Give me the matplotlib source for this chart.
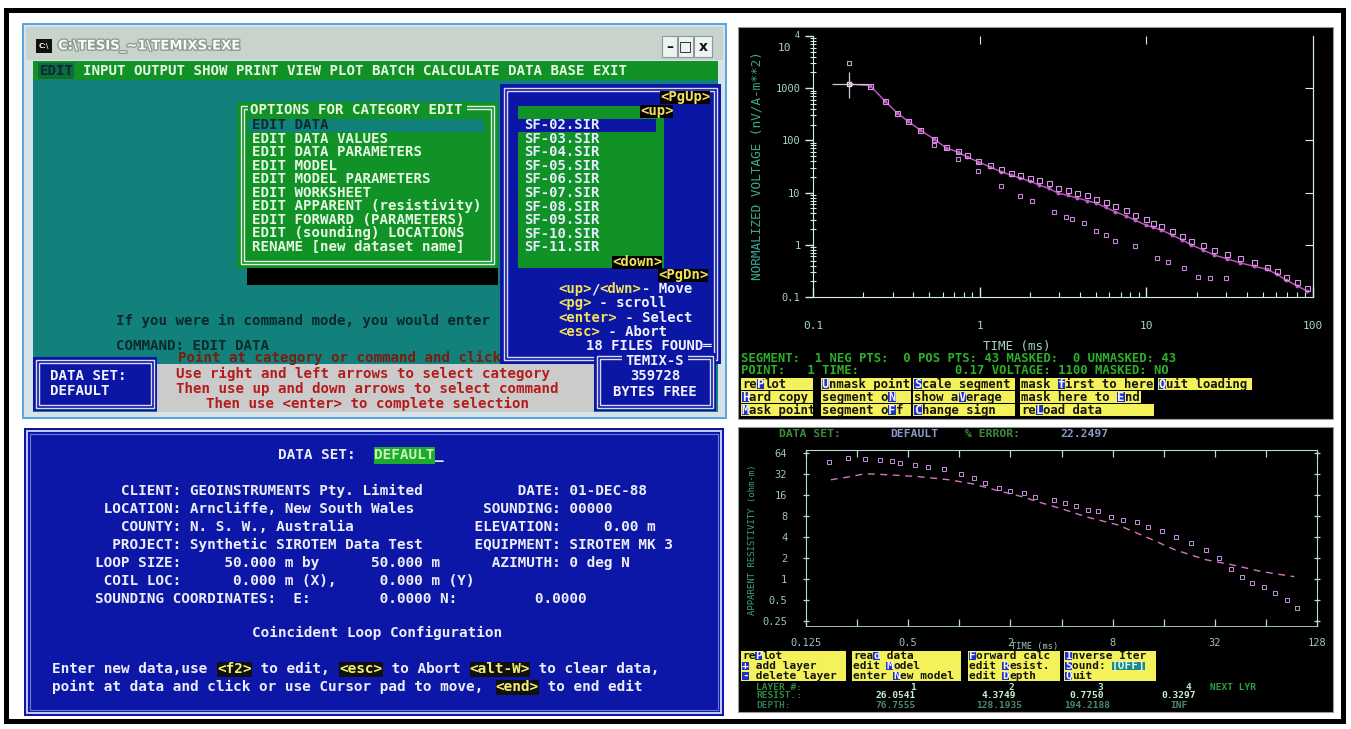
import matplotlib
matplotlib.use("Agg")
import matplotlib.pyplot as plt
import matplotlib.patheffects as pe
from matplotlib.patches import Rectangle
from matplotlib.ticker import LogLocator, NullLocator, NullFormatter

W, H = 1351, 729
MONO = "DejaVu Sans Mono"

# ---- TEM decay curve (top right): time in ms, voltage in nV/A-m**2
gate_ms = [0.17, 0.22, 0.27, 0.32, 0.37, 0.44, 0.53, 0.63, 0.74, 0.84,
           0.98, 1.15, 1.35, 1.55, 1.75, 2.0, 2.27, 2.6, 2.95, 3.4,
           3.85, 4.4, 5.0, 5.7, 6.5, 7.5, 8.5, 9.9, 11.0, 12.3,
           14.2, 16.3, 18.6, 21.8, 25.4, 30.5, 36.6, 44, 53, 61,
           69, 80, 92]
model_nv = [1190, 1120, 569, 335, 235, 158, 107, 72, 60, 48,
            39, 31, 25, 21.5, 19, 16.5, 14, 12, 9.8, 8.8,
            7.9, 7.0, 6.3, 5.2, 4.3, 3.6, 3.0, 2.4, 2.15, 1.92,
            1.55, 1.25, 1.0, 0.8, 0.64, 0.54, 0.45, 0.39, 0.34, 0.27,
            0.21, 0.165, 0.13]
data_nv = [1190, 1100, 560, 330, 240, 160, 105, 76, 62, 52,
           41, 34, 28, 24, 22, 19, 17.5, 15, 12.5, 11,
           10, 8.8, 7.6, 6.6, 5.5, 4.6, 3.8, 3.1, 2.6, 2.3,
           1.8, 1.5, 1.2, 0.98, 0.8, 0.66, 0.55, 0.46, 0.38, 0.31,
           0.24, 0.19, 0.15]
lower_ms = [0.53, 0.74, 0.98, 1.35, 1.75, 2.05, 2.8, 3.3, 3.6, 4.2,
            5.0, 5.7, 6.5, 8.5, 11.6, 13.5, 16.8, 20.5, 24, 30]
lower_nv = [80, 45, 26, 13.5, 8.6, 6.9, 4.3, 3.4, 3.1, 2.6,
            1.85, 1.55, 1.2, 0.93, 0.56, 0.47, 0.36, 0.24, 0.23, 0.23]
first_ms, first_nv = 0.165, 1190
first_x_range = (0.13, 0.215)
first_y_range = (650, 2040)
first_spike_nv = 3000
volt_ticks = [0.1, 1, 10, 100, 1000, 10000]
volt_labels = ["0.1", "1", "10", "100", "1000", ""]
time_ticks = [0.1, 1, 10, 100]
time_labels = ["0.1", "1", "10", "100"]

# ---- apparent resistivity (bottom right)
rho_model_ms = [0.175, 0.227, 0.278, 0.38, 0.58, 0.87, 1.19, 1.62, 2.34, 3.03,
                4.14, 5.6, 8.6, 12.9, 18.6, 28.4, 40, 61, 94]
rho_model = [26.2, 29.0, 32, 30.9, 29.0, 26.2, 23.0, 18.8, 15.0, 12.3,
             9.8, 7.7, 5.9, 3.87, 2.6, 1.87, 1.59, 1.26, 1.07]
rho_data_ms = [0.171, 0.221, 0.278, 0.341, 0.40, 0.45, 0.55, 0.65, 0.81, 1.02,
               1.22, 1.42, 1.72, 2.0, 2.4, 2.8, 3.6, 4.2, 4.9, 5.7,
               6.6, 7.8, 9.2, 11.1, 12.9, 15.7, 19.0, 23.2, 28.3, 33.8,
               40, 46, 53, 62, 72, 85, 97]
rho_data = [47.6, 54, 52.5, 51, 49.4, 46, 42, 39.3, 36.9, 32,
            28, 23.8, 20.2, 18.3, 17.1, 15.0, 13.5, 12.3, 10.9, 9.8,
            9.2, 7.7, 7.0, 6.4, 5.5, 4.8, 3.9, 3.3, 2.6, 2.0,
            1.4, 1.07, 0.88, 0.75, 0.62, 0.5, 0.38]
rho_ticks = [0.25, 0.5, 1, 2, 4, 8, 16, 32, 64]
rho_labels = ["0.25", "0.5", "1", "2", "4", "8", "16", "32", "64"]
octave_ms = [0.125, 0.25, 0.5, 1, 2, 4, 8, 16, 32, 64, 128]
octave_labels = ["0.125", "", "0.5", "", "2", "", "8", "", "32", "", "128"]
layer_no = ["1", "2", "3", "4"]
layer_res = ["26.0541", "4.3749", "0.7750", "0.3297"]
layer_depth = ["76.7555", "128.1935", "194.2188", "INF"]

# ---- screen text
menu_items = "INPUT OUTPUT SHOW PRINT VIEW PLOT BATCH CALCULATE DATA BASE EXIT"
edit_options = ["EDIT DATA", "EDIT DATA VALUES", "EDIT DATA PARAMETERS", "EDIT MODEL",
                "EDIT MODEL PARAMETERS", "EDIT WORKSHEET", "EDIT APPARENT (resistivity)",
                "EDIT FORWARD (PARAMETERS)", "EDIT (sounding) LOCATIONS",
                "RENAME [new dataset name]"]
sounding_files = ["SF-02.SIR", "SF-03.SIR", "SF-04.SIR", "SF-05.SIR", "SF-06.SIR",
                  "SF-07.SIR", "SF-08.SIR", "SF-09.SIR", "SF-10.SIR", "SF-11.SIR"]
tem_buttons = [[("rePlot", 2), ("Unmask point", 0), ("Scale segment", 0),
                ("mask first to here", 5), ("Quit loading", 0)],
               [("Hard copy", 0), ("segment oN", 9), ("show aVerage", 6),
                ("mask here to End", 13)],
               [("Mask point", 0), ("segment oFf", 9), ("Change sign", 0),
                ("reLoad data", 2)]]
inv_buttons = [[("rePlot", 2), ("read data", 3), ("Forward calc", 0), ("Inverse Iter", 0)],
               [("+ add layer", 0), ("edit Model", 5), ("edit Resist.", 5), ("Sound: [OFF]", 0)],
               [("- delete layer", 0), ("enter New model", 6), ("edit Depth", 5), ("Quit", 0)]]

fig = plt.figure(figsize=(W / 100, H / 100), dpi=100, facecolor="white")
bg = fig.add_axes([0, 0, 1, 1])
bg.set_xlim(0, W)
bg.set_ylim(H, 0)
bg.axis("off")


def cw(size):
    return 0.6021 * size * 100 / 72


def box(x0, y0, x1, y1, fc, z=1):
    bg.add_patch(Rectangle((x0, y0), x1 - x0, y1 - y0, facecolor=fc, edgecolor="none", zorder=z))


def frame(x0, y0, x1, y1, ec, lw=1.0, z=2):
    bg.add_patch(Rectangle((x0, y0), x1 - x0, y1 - y0, facecolor="none",
                           edgecolor=ec, linewidth=lw, zorder=z))


def txt(x, y, s, color, size=10.2, ha="left", weight="bold", family=MONO, z=5, **kw):
    return bg.text(x, y, s, color=color, fontsize=size, ha=ha, va="center",
                   family=family, fontweight=weight, zorder=z, **kw)


def segs(x, y, parts, size=10.2, h=13):
    for s, fg, b in parts:
        w = len(s) * cw(size)
        if b:
            box(x, y - h / 2, x + w, y + h / 2, b, z=4)
        if s.strip():
            txt(x, y, s, fg, size)
        x += w


def grid(pairs):
    s = ""
    for c, t in pairs:
        s = s.ljust(c) + t
    return s


def button(x0, x1, y, label, hot, size, h, fill="#f4f25a"):
    c = cw(size)
    box(x0, y - h / 2, x1, y + h / 2, fill, z=4)
    tail = ""
    if label.endswith("[OFF]"):
        label, tail = label[:-5], "[OFF]"
    hx = x0 + 1 + hot * c
    box(hx, y - h / 2 + 1, hx + c, y + h / 2 - 1, "#2030c8", z=4.5)
    parts = [(label[:hot], "#141414", None), (label[hot], "#f4f4f4", None),
             (label[hot + 1:], "#141414", None)]
    if tail:
        parts.append((tail, "#e0f8f0", "#1a8a8a"))
    segs(x0 + 1, y, parts, size=size, h=h - 2)


# ---------------- outer frame
bg.add_patch(Rectangle((6, 9.5), 1337, 711, facecolor="none", edgecolor="black",
                       linewidth=3.6, zorder=10))

# ---------------- top left: DOS window
TEAL, GREEN, BLUE = "#12817c", "#109226", "#0c16a4"
LIGHT, YEL = "#e6f6e2", "#f2e25a"
box(22, 23, 727, 419, "#5aa6e4")
box(24, 25, 725, 417, "#d6e2e6")
box(26, 27, 723, 60, "#c8d3cb")
box(36, 39, 52, 53, "#101010", z=2)
txt(44, 46, "C:\\", "#f0f0f0", size=5, ha="center", family="DejaVu Sans", z=3)
txt(58, 46, "C:\\TESIS_~1\\TEMIXS.EXE", "#fbfbf6", size=9.5, family="DejaVu Sans",
    path_effects=[pe.withStroke(linewidth=2, foreground="#8c9c94")])
for (x0, x1), g in zip([(662, 677), (678, 693), (694, 712)], ["\u2013", "\u25a1", "x"]):
    box(x0, 36, x1, 57, "#eef2f0", z=2)
    frame(x0, 36, x1, 57, "#8a9aa2", lw=0.8)
    txt((x0 + x1) / 2, 46.5, g, "#101010", size=10, ha="center", family="DejaVu Sans")

box(33, 61, 718, 412, TEAL)
box(33, 61, 718, 80, GREEN)
box(38, 63, 38 + 4 * cw(10.2) + 2, 79, "#0e6a42", z=2)
txt(40, 71, "EDIT", "#0a2c2a")
txt(40 + 5 * cw(10.2), 71, menu_items, LIGHT)

# options box
box(237, 102, 498, 268, GREEN)
box(247, 268, 498, 285, "black")
frame(241, 106, 494, 264, "#e6f2e6")
frame(244, 109, 491, 261, "#e6f2e6")
box(248, 103, 250 + 25 * cw(10.2) + 4, 117, GREEN, z=3)
txt(250, 110, "OPTIONS FOR CATEGORY EDIT", LIGHT)
box(248, 118.5, 484, 131.5, TEAL, z=3)
for i, opt in enumerate(edit_options):
    txt(252, 125 + i * 13.5, opt, "#0a2c2a" if i == 0 else LIGHT)

# file list panel
box(500, 84, 721, 364, BLUE)
frame(504, 88, 717, 360, "#d8dcf4")
frame(507, 91, 714, 357, "#d8dcf4")
box(518, 106, 664, 268, GREEN, z=2)
box(518, 118.5, 656, 131.5, BLUE, z=3)
for i, f in enumerate(sounding_files):
    txt(524, 125 + i * 13.6, f, "#e8ecff", size=10)
segs(660, 97, [("<PgUp>", YEL, "black")], size=10)
segs(640, 111, [("<up>", YEL, "black")], size=10)
segs(612, 262, [("<down>", YEL, "black")], size=10)
segs(658, 275, [("<PgDn>", YEL, "black")], size=10)
WT = "#f2f2ff"
segs(558, 289, [("<up>", YEL, None), ("/", WT, None), ("<dwn>", YEL, None), ("- Move", WT, None)], size=10)
segs(558, 303, [("<pg>", YEL, None), (" - scroll", WT, None)], size=10)
segs(558, 318, [("<enter>", YEL, None), (" - Select", WT, None)], size=10)
segs(558, 332, [("<esc>", YEL, None), (" - Abort", WT, None)], size=10)
txt(586, 346, "18 FILES FOUND\u2550", WT, size=10)

txt(116, 321, "If you were in command mode, you would enter", "#0a2a2a")
txt(116, 346, "COMMAND: EDIT DATA", "#0a2a2a")
txt(178, 358, "Point at category or command and click", "#7a1c10")
box(157, 364, 594, 412, "#cbcbcb")
RED = "#b41c1c"
txt(176, 374, "Use right and left arrows to select category", RED)
txt(176, 389, "Then use up and down arrows to select command", RED)
txt(206, 404, "Then use <enter> to complete selection", RED)

box(33, 357, 157, 411, BLUE, z=3)
frame(36, 360, 154, 408, "#d8dcf4", z=3)
frame(39, 363, 151, 405, "#d8dcf4", z=3)
txt(50, 376, "DATA SET:", WT)
txt(50, 391, "DEFAULT", WT)

box(594, 353, 716, 411, BLUE, z=3)
frame(597, 356, 713, 408, "#d8dcf4", z=3)
frame(600, 359, 710, 405, "#d8dcf4", z=3)
box(622, 354, 688, 368, BLUE, z=3.5)
txt(655, 361, "TEMIX-S", WT, ha="center", size=10)
txt(655, 376, "359728", WT, ha="center", size=10)
txt(655, 392, "BYTES FREE", WT, ha="center", size=10)

# ---------------- bottom left: data set header screen
BL = "#0c17a8"
box(24, 428, 724, 716, BL)
frame(27, 431, 721, 713, "#c8ccf4", lw=1.4)
frame(30, 434, 718, 710, "#7078d8", lw=0.8)
S = 10.4
C = cw(S)
col = lambda c: 26 + c * C
TW = "#eceef8"
txt(col(29), 455, "DATA SET:", TW, size=S)
segs(col(40), 455, [("DEFAULT", "#c4f4b8", "#1eaa2a"), ("_", TW, None)], size=S, h=17)
rows = [
    [(11, "CLIENT:"), (19, "GEOINSTRUMENTS Pty. Limited"), (57, "DATE:"), (63, "01-DEC-88")],
    [(9, "LOCATION:"), (19, "Arncliffe, New South Wales"), (53, "SOUNDING:"), (63, "00000")],
    [(11, "COUNTY:"), (19, "N. S. W., Australia"), (52, "ELEVATION:"), (67, "0.00 m")],
    [(10, "PROJECT:"), (19, "Synthetic SIROTEM Data Test"), (52, "EQUIPMENT:"), (63, "SIROTEM MK 3")],
    [(8, "LOOP SIZE:"), (23, "50.000 m by"), (40, "50.000 m"), (54, "AZIMUTH:"), (63, "0 deg N")],
    [(9, "COIL LOC:"), (24, "0.000 m (X),"), (41, "0.000 m (Y)")],
    [(8, "SOUNDING COORDINATES:"), (31, "E:"), (41, "0.0000 N:"), (59, "0.0000")],
]
for i, r in enumerate(rows):
    txt(col(0), 491 + i * 18, grid(r), TW, size=S)
txt(col(26), 633, "Coincident Loop Configuration", TW, size=S)
KY = "#f4f070"
segs(col(3), 669, [("Enter new data,use ", TW, None), ("<f2>", KY, "#101010"),
                   (" to edit, ", TW, None), ("<esc>", KY, "#101010"),
                   (" to Abort ", TW, None), ("<alt-W>", KY, "#101010"),
                   (" to clear data,", TW, None)], size=S, h=15)
segs(col(3), 687, [("point at data and click or use Cursor pad to move, ", TW, None),
                   ("<end>", KY, "#101010"), (" to end edit", TW, None)], size=S, h=15)

# ---------------- top right: TEM decay plot
box(738, 27, 1333, 419, "black")
frame(738, 27, 1333, 419, "#9a9a9a", lw=0.8)
AX, LAB = "#d4eeea", "#a6d4cc"


def rect(x0, y0, x1, y1):
    return [x0 / W, 1 - y1 / H, (x1 - x0) / W, (y1 - y0) / H]


ax1 = fig.add_axes(rect(813, 36, 1313, 297))
ax1.set_zorder(3)
ax1.set_facecolor("black")
ax1.set_xscale("log")
ax1.set_yscale("log")
ax1.plot(gate_ms, model_nv, color="#c45ac8", lw=1.0, marker="o", ms=1.8, zorder=3)
ax1.plot(gate_ms[1:], data_nv[1:], ls="none", marker="s", ms=3.6, mfc="none",
         mec="#d894e6", mew=0.8, zorder=4)
ax1.plot(lower_ms, lower_nv, ls="none", marker="s", ms=3.2, mfc="none",
         mec="#c884dc", mew=0.8, zorder=4)
ax1.errorbar([first_ms], [first_nv],
             xerr=[[first_ms - first_x_range[0]], [first_x_range[1] - first_ms]],
             yerr=[[first_nv - first_y_range[0]], [first_y_range[1] - first_nv]],
             fmt="s", ms=3.5, mfc="none", mec="#e0e0e0", ecolor="#c8c8c8",
             elinewidth=0.9, capsize=0, zorder=5)
ax1.plot([first_ms], [first_spike_nv], ls="none", marker="s", ms=3.5, mfc="none",
         mec="#d894e6", mew=0.8)
ax1.set_xlim(0.1, 100)
ax1.set_ylim(0.1, 1e4)
for side in ("left", "right", "bottom"):
    ax1.spines[side].set_color(AX)
ax1.spines["top"].set_visible(False)
ax1.set_yticks(volt_ticks)
ax1.set_yticklabels(volt_labels)
ax1.set_xticks(time_ticks)
ax1.set_xticklabels(time_labels)
ax1.yaxis.set_minor_locator(LogLocator(base=10, subs=range(2, 10), numticks=30))
ax1.xaxis.set_minor_locator(LogLocator(base=10, subs=range(2, 10), numticks=30))
ax1.yaxis.set_minor_formatter(NullFormatter())
ax1.xaxis.set_minor_formatter(NullFormatter())
ax1.tick_params(axis="y", which="major", direction="out", length=6, width=1, color=AX,
                labelcolor=LAB, labelsize=7.5, pad=3)
ax1.tick_params(axis="y", which="minor", direction="inout", length=4, width=0.8, color=AX)
ax1.tick_params(axis="x", which="major", direction="in", length=7, width=1, color=AX,
                labelcolor=LAB, labelsize=8, pad=17)
ax1.tick_params(axis="x", which="minor", direction="in", length=3.5, width=0.8, color=AX)
for lab in ax1.get_xticklabels() + ax1.get_yticklabels():
    lab.set_family(MONO)
sec_r = ax1.secondary_yaxis("right")
sec_r.set_yticks([1, 10, 100, 1000])
sec_r.yaxis.set_minor_locator(NullLocator())
sec_r.tick_params(direction="in", length=6, color=AX, labelright=False)
sec_r.spines["right"].set_color(AX)
sec_t = ax1.secondary_xaxis("top")
sec_t.set_xticks([1, 10])
sec_t.xaxis.set_minor_locator(NullLocator())
sec_t.tick_params(direction="in", length=6, color=AX, labeltop=False)
sec_t.spines["top"].set_visible(False)

txt(784, 48, "10", LAB, size=8, ha="center", weight="normal")
txt(797, 35, "4", LAB, size=6, ha="center", weight="normal")
txt(757, 166, "NORMALIZED VOLTAGE (nV/A-m**2)", "#3aa890", size=9.2, ha="center",
    weight="normal", rotation=90)
txt(1017, 346, "TIME (ms)", LAB, size=9, ha="center", weight="normal")
G1 = "#2cb02c"
S1 = 8.84
txt(741, 358, "SEGMENT:  1 NEG PTS:  0 POS PTS: 43 MASKED:  0 UNMASKED: 43", G1, size=S1)
txt(741, 370, grid([(0, "POINT:"), (9, "1"), (11, "TIME:"), (29, "0.17"), (34, "VOLTAGE:"),
                    (43, "1100"), (48, "MASKED: NO")]), G1, size=S1)
c1 = cw(S1)
starts = [0, 10.8, 23.3, 37.75, 56.4]
widths = [[9.75, 12.2, 13.7, 18.1, 12.7], [9.75, 12.2, 13.7, 16.4], [9.75, 12.2, 13.7, 18.1]]
for r, row in enumerate(tem_buttons):
    for j, (label, hot) in enumerate(row):
        x0 = 741 + starts[j] * c1
        button(x0, x0 + widths[r][j] * c1, 384 + r * 13, label, hot, S1, 12)

# ---------------- bottom right: apparent resistivity plot
box(738, 427, 1333, 712, "black")
frame(738, 427, 1333, 712, "#9a9a9a", lw=0.8)
AX2, LAB2 = "#b8dcd4", "#9cc4bc"
ax2 = fig.add_axes(rect(806, 450, 1317, 626))
ax2.set_zorder(3)
ax2.set_facecolor("black")
ax2.set_xscale("log", base=2)
ax2.set_yscale("log", base=2)
ax2.plot(rho_model_ms, rho_model, color="#d474c4", lw=1.0, ls=(0, (5, 4)))
ax2.plot(rho_data_ms, rho_data, ls="none", marker="s", ms=2.6, mfc="none",
         mec="#c890e4", mew=0.7)
ax2.set_xlim(0.125, 128)
ax2.set_ylim(0.21, 70)
for side in ax2.spines:
    ax2.spines[side].set_color(AX2)
ax2.spines["bottom"].set_linewidth(0.6)
ax2.set_xticks(octave_ms)
ax2.set_xticklabels(octave_labels)
ax2.set_yticks(rho_ticks)
ax2.set_yticklabels(rho_labels)
ax2.xaxis.set_minor_locator(NullLocator())
ax2.yaxis.set_minor_locator(NullLocator())
ax2.tick_params(axis="x", direction="in", length=5, width=0.9, top=True, color=AX2,
                labelcolor=LAB2, labelsize=7.5, pad=9)
ax2.tick_params(axis="y", direction="inout", length=5, width=0.9, right=True, color=AX2,
                labelcolor=LAB2, labelsize=7.5, pad=11)
for lab in ax2.get_xticklabels() + ax2.get_yticklabels():
    lab.set_family(MONO)

DG, DB = "#3c8c3c", "#8898c8"
txt(779, 434, "DATA SET:", DG, size=8.2)
txt(890, 434, "DEFAULT", DB, size=8.2)
txt(965, 434, "% ERROR:", DG, size=8.2)
txt(1060, 434, "22.2497", DB, size=8.2)
txt(752, 540, "APPARENT RESISTIVITY (ohm-m)", "#3aa08a", size=6.5, ha="center",
    weight="normal", rotation=90)
txt(1035, 647, "TIME (ms)", LAB2, size=6.2, ha="center", weight="normal")
S2 = 8.0
spans = [(741, 846), (852, 961), (968, 1060), (1064, 1156)]
for r, row in enumerate(inv_buttons):
    for j, (label, hot) in enumerate(row):
        button(spans[j][0], spans[j][1], 656 + r * 10, label, hot, S2, 9.5)

S3 = 6.8
txt(756, 687, "LAYER #:", "#2e8a3e", size=S3)
txt(756, 696, "RESIST.:", "#2e8a3e", size=S3)
txt(756, 705, "DEPTH:", "#2e7a4e", size=S3)
for k, (xc, xv) in enumerate([(913, 896), (1011, 999), (1100, 1087), (1188, 1179)]):
    txt(xc, 687, layer_no[k], "#b8ecc0", size=S3, ha="center")
    txt(xv, 696, layer_res[k], "#c8f0d0", size=S3, ha="center")
    txt(xv, 705, layer_depth[k], "#4a8a6a", size=S3, ha="center")
txt(1210, 687, "NEXT LYR", "#2aa040", size=S3)

fig.savefig("out.png", dpi=100, facecolor="white")
